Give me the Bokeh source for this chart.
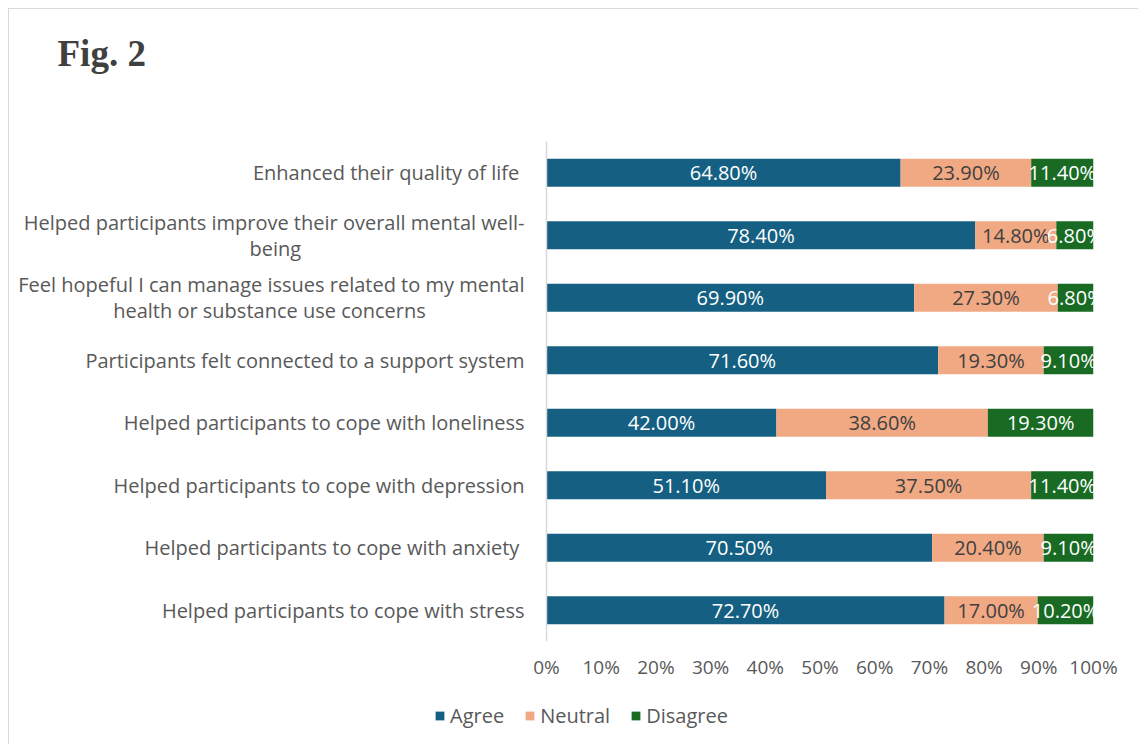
from bokeh.plotting import figure
from bokeh.layouts import column
from bokeh.models import (FactorRange, Range1d, FixedTicker, Legend, LegendItem,
                          Title, Span, BoxAnnotation)
from bokeh.embed import file_html
from bokeh.resources import INLINE
from bokeh.core.properties import value

categories = [
    "Enhanced their quality of life ",
    "Helped participants improve their overall mental well-being",
    "Feel hopeful I can manage issues related to my mental health or substance use concerns",
    "Participants felt connected to a support system",
    "Helped participants to cope with loneliness",
    "Helped participants to cope with depression",
    "Helped participants to cope with anxiety ",
    "Helped participants to cope with stress",
]
# displayed (wrapped) labels; second lines padded so they sit centred under the first
NB = "\u00a0"
category_labels = [
    "Enhanced their quality of life ",
    "Helped participants improve their overall mental well-\nbeing" + NB * 43,
    "Feel hopeful I can manage issues related to my mental\nhealth or substance use concerns" + NB * 19,
    "Participants felt connected to a support system",
    "Helped participants to cope with loneliness",
    "Helped participants to cope with depression",
    "Helped participants to cope with anxiety ",
    "Helped participants to cope with stress",
]
agree = [64.8, 78.4, 69.9, 71.6, 42.0, 51.1, 70.5, 72.7]
neutral = [23.9, 14.8, 27.3, 19.3, 38.6, 37.5, 20.4, 17.0]
disagree = [11.4, 6.8, 6.8, 9.1, 19.3, 11.4, 9.1, 10.2]
series_names = ["Agree", "Neutral", "Disagree"]
series_colors = ["#156082", "#F1A983", "#196B24"]
label_colors = ["#ffffff", "#404040", "#ffffff"]
x_ticks = [0, 10, 20, 30, 40, 50, 60, 70, 80, 90, 100]
title_text = "Fig. 2"

FONT = "Open Sans"
GREY = "#595959"

# layout plan (pixels inside the 1130-wide canvas)
W = 1130
H_CHART, H_LEGEND = 678, 58
BORDER_L, BORDER_T, BORDER_B = 0, 132, 46
AXIS0_PX, AXIS100_PX = 537, 1084          # where 0% and 100% fall on the canvas
px_per_unit = (AXIS100_PX - AXIS0_PX) / (x_ticks[-1] - x_ticks[0])
x_start = -(AXIS0_PX - BORDER_L) / px_per_unit
x_end = x_ticks[-1] + (W - AXIS100_PX) / px_per_unit
label_x = -22 / px_per_unit

p = figure(
    width=W, height=H_CHART,
    y_range=FactorRange(factors=list(reversed(categories))),
    x_range=Range1d(x_start, x_end),
    y_axis_location=None,
    output_backend="svg", toolbar_location=None,
    min_border_left=BORDER_L, min_border_right=0,
    min_border_top=BORDER_T, min_border_bottom=BORDER_B,
)
p.outline_line_color = None
p.grid.grid_line_color = None

# 100% stacked bars: each row is scaled to its own total, labels show the raw values
series = [agree, neutral, disagree]
totals = [a + n + d for a, n, d in zip(agree, neutral, disagree)]
left = [0.0] * len(categories)
for name, vals, col, tcol in zip(series_names, series, series_colors, label_colors):
    shares = [v / t * 100 for v, t in zip(vals, totals)]
    right = [l + s for l, s in zip(left, shares)]
    p.hbar(y=categories, left=left, right=right, height=0.45,
           fill_color=col, line_color=None)
    centers = [(l + rr) / 2 for l, rr in zip(left, right)]
    p.text(x=centers, y=categories, text=[f"{v:.2f}%" for v in vals],
           text_align="center", text_baseline="middle", text_color=tcol,
           text_font=value(FONT), text_font_size="20px")
    left = right

# anything past 100% is hidden, like the chart's plot area
p.add_layout(BoxAnnotation(left=x_ticks[-1], fill_color="white", fill_alpha=1,
                           line_color=None))

# category labels (vertical axis)
p.text(x=[label_x] * len(categories), y=categories, text=category_labels,
       text_align="right", text_baseline="middle", text_color=GREY,
       text_font=value(FONT), text_font_size="20px", text_line_height=0.96)
p.add_layout(Span(location=x_ticks[0], dimension="height",
                  line_color="#d9d9d9", line_width=1.5))

# horizontal axis
p.xaxis.ticker = FixedTicker(ticks=x_ticks)
p.xaxis.major_label_overrides = {t: f"{t}%" for t in x_ticks}
p.xaxis.axis_line_color = None
p.xaxis.major_tick_line_color = None
p.xaxis.minor_tick_line_color = None
p.xaxis.major_label_standoff = 6
p.xaxis.major_label_text_font = FONT
p.xaxis.major_label_text_font_size = "19px"
p.xaxis.major_label_text_color = GREY

# spacer title next to the frame, then the figure title above it
p.add_layout(Title(text=" ", text_font_size="45px"), "above")
p.add_layout(Title(text=title_text, align="left", offset=48,
                   text_font="Liberation Serif", text_font_style="bold",
                   text_font_size="37px", text_color="#404040"), "above")

# legend strip below the chart
lf = figure(width=W, height=H_LEGEND, x_range=Range1d(0, 1), y_range=Range1d(0, 1),
            x_axis_type=None, y_axis_type=None, output_backend="svg",
            toolbar_location=None, min_border_left=BORDER_L, min_border_right=0,
            min_border_top=0, min_border_bottom=0)
lf.outline_line_color = None
lf.grid.grid_line_color = None
items = []
for name, col in zip(series_names, series_colors):
    # zero-width key bars: they only lend their colour to the legend
    r = lf.hbar(y=[0.5], left=[0], right=[0], height=0, fill_color=col, line_color=None)
    items.append(LegendItem(label=name, renderers=[r]))
legend = Legend(items=items, orientation="horizontal", location=(425, 16),
                glyph_width=11, glyph_height=11, label_standoff=5, spacing=20,
                label_text_font=FONT, label_text_font_size="20px",
                label_text_color=GREY, border_line_color=None,
                background_fill_alpha=0, padding=0, margin=0)
lf.add_layout(legend, "center")

layout = column(p, lf, spacing=0)
layout.styles = {"margin-left": "8px", "margin-top": "8px",
                 "border-left": "1px solid #d9d9d9", "border-top": "1px solid #d9d9d9"}

open("out.html", "w").write(file_html(layout, INLINE))
